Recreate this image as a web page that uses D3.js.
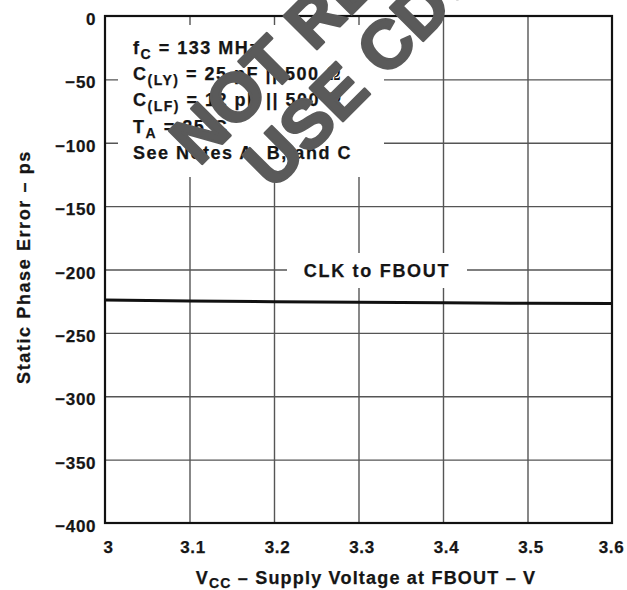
<!DOCTYPE html>
<html>
<head>
<meta charset="utf-8">
<script src="https://cdn.jsdelivr.net/npm/d3@7/dist/d3.min.js"></script>
<style>
  body { margin: 0; background: #fff; }
  text { font-family: Arial, "Liberation Sans", Helvetica, sans-serif; font-weight: bold; fill: #151515; stroke: #151515; stroke-width: 0.25px; }
</style>
</head>
<body>
<div id="container"></div>
<script>
// valeurs
const vcc = [3.0, 3.1, 3.2, 3.3, 3.4, 3.5, 3.6]
const phaseError = [-224.1, -224.8, -225.4, -225.9, -226.3, -226.6, -226.8]

const xTicks = [3, 3.1, 3.2, 3.3, 3.4, 3.5, 3.6]
const xTickLabels = ['3', '3.1', '3.2', '3.3', '3.4', '3.5', '3.6']
const yTicks = [0, -50, -100, -150, -200, -250, -300, -350, -400]
const yTickLabels = ['0', '\u221250', '\u2212100', '\u2212150', '\u2212200', '\u2212250', '\u2212300', '\u2212350', '\u2212400']

const seriesLabel = 'CLK to FBOUT'
const conditions = [
  ['f', 'C', ' = 133 MHz', ''],
  ['C', '(LY)', ' = 25 pF || 500 ', '\u03A9'],
  ['C', '(LF)', ' = 12 pF || 500 ', '\u03A9'],
  ['T', 'A', ' = 25\u00B0C', ''],
  ['See Notes A, B, and C', '', '', '']
]
const watermark = ['NOT RECOMMENDED FOR NEW DESIGNS', 'USE CDCVF2505 AS A REPLACEMENT']

const W = 627, H = 590
const margin = { top: 16, right: 15, bottom: 67, left: 105 }
const plotW = W - margin.left - margin.right
const plotH = H - margin.top - margin.bottom

const svg = d3.select('#container').append('svg')
  .attr('width', W)
  .attr('height', H)

const chart = svg.append('g')
  .attr('transform', `translate(${margin.left},${margin.top})`)

const x = d3.scaleLinear().domain([3, 3.6]).range([0, plotW])
const y = d3.scaleLinear().domain([0, -400]).range([0, plotH])

// axe des ordonnées + grille horizontale
const yAxis = d3.axisLeft(y)
  .tickValues(yTicks)
  .tickSize(-plotW)
  .tickPadding(9)
  .tickFormat((d, i) => yTickLabels[i])
const gy = chart.append('g').call(yAxis)
gy.select('.domain').remove()
gy.selectAll('.tick line')
  .attr('stroke', '#555')
  .attr('stroke-width', 1.4)
  .attr('opacity', (d) => (d === 0 || d === -400) ? 0 : 1)
gy.selectAll('.tick text')
  .attr('dy', '0.5em')
  .style('font-size', '17px')
  .style('letter-spacing', '0.6px')

// axe des abscisses + grille verticale
const xAxis = d3.axisBottom(x)
  .tickValues(xTicks)
  .tickSize(-plotH)
  .tickPadding(18)
  .tickFormat((d, i) => xTickLabels[i])
const gx = chart.append('g')
  .attr('transform', `translate(0,${plotH})`)
  .call(xAxis)
gx.select('.domain').remove()
gx.selectAll('.tick line')
  .attr('stroke', '#555')
  .attr('stroke-width', 1.4)
  .attr('opacity', (d) => (d === 3 || d === 3.6) ? 0 : 1)
gx.selectAll('.tick text')
  .attr('dx', (d) => d === 3.6 ? -1 : 3)
  .style('font-size', '17px')
  .style('letter-spacing', '0.6px')

// fonds blancs sous les textes
chart.append('rect')
  .attr('x', 13).attr('y', 9)
  .attr('width', 266).attr('height', 152)
  .attr('fill', '#fff')
chart.append('rect')
  .attr('x', 182).attr('y', 237)
  .attr('width', 180).attr('height', 35)
  .attr('fill', '#fff')

// cadre
chart.append('rect')
  .attr('width', plotW)
  .attr('height', plotH)
  .attr('fill', 'none')
  .attr('stroke', '#111')
  .attr('stroke-width', 2.2)

// courbe
const line = d3.line()
  .x((d, i) => x(vcc[i]))
  .y((d) => y(d))
chart.append('path')
  .datum(phaseError)
  .attr('d', line)
  .attr('fill', 'none')
  .attr('stroke', '#111')
  .attr('stroke-width', 3)

chart.append('text')
  .attr('x', 272)
  .attr('y', y(-200) + 7)
  .attr('text-anchor', 'middle')
  .style('font-size', '18px')
  .style('letter-spacing', '1.7px')
  .text(seriesLabel)

// conditions de mesure
const cond = chart.append('g')
conditions.forEach((c, i) => {
  const t = cond.append('text')
    .attr('x', 28)
    .attr('y', 38 + i * 26.2)
    .style('font-size', '18px')
    .style('letter-spacing', '1.5px')
  t.append('tspan').text(c[0])
  if (c[1]) {
    t.append('tspan').attr('dy', 5).style('font-size', '14px').text(c[1])
    t.append('tspan').attr('dy', -5).text(c[2])
  }
  if (c[3]) {
    t.append('tspan')
      .style('font-family', '"Liberation Serif", "Times New Roman", serif')
      .style('font-weight', 'normal')
      .style('font-size', '20px')
      .style('stroke-width', 0)
      .text(c[3])
  }
})

// titres des axes
svg.append('text')
  .attr('transform', 'translate(30,267) rotate(-90)')
  .attr('text-anchor', 'middle')
  .style('font-size', '18px')
  .style('letter-spacing', '1.6px')
  .text('Static Phase Error \u2013 ps')

const xt = svg.append('text')
  .attr('x', 366)
  .attr('y', 584)
  .attr('text-anchor', 'middle')
  .style('font-size', '18px')
  .style('letter-spacing', '1.2px')
xt.append('tspan').text('V')
xt.append('tspan').attr('dy', 4).style('font-size', '14px').text('CC')
xt.append('tspan').attr('dy', -4).text(' \u2013 Supply Voltage at FBOUT \u2013 V')

// filigrane
const wm = svg.append('g').attr('class', 'watermark')
wm.append('text')
  .attr('transform', 'translate(199,167) rotate(-45)')
  .style('font-size', '68px')
  .style('fill', '#5a5a5a')
  .style('stroke', '#5a5a5a')
  .style('stroke-width', 2.6)
  .style('stroke-linejoin', 'round')
  .text(watermark[0])
wm.append('text')
  .attr('transform', 'translate(273,191) rotate(-45)')
  .style('font-size', '68px')
  .style('fill', '#5a5a5a')
  .style('stroke', '#5a5a5a')
  .style('stroke-width', 2.6)
  .style('stroke-linejoin', 'round')
  .text(watermark[1])
</script>
</body>
</html>
